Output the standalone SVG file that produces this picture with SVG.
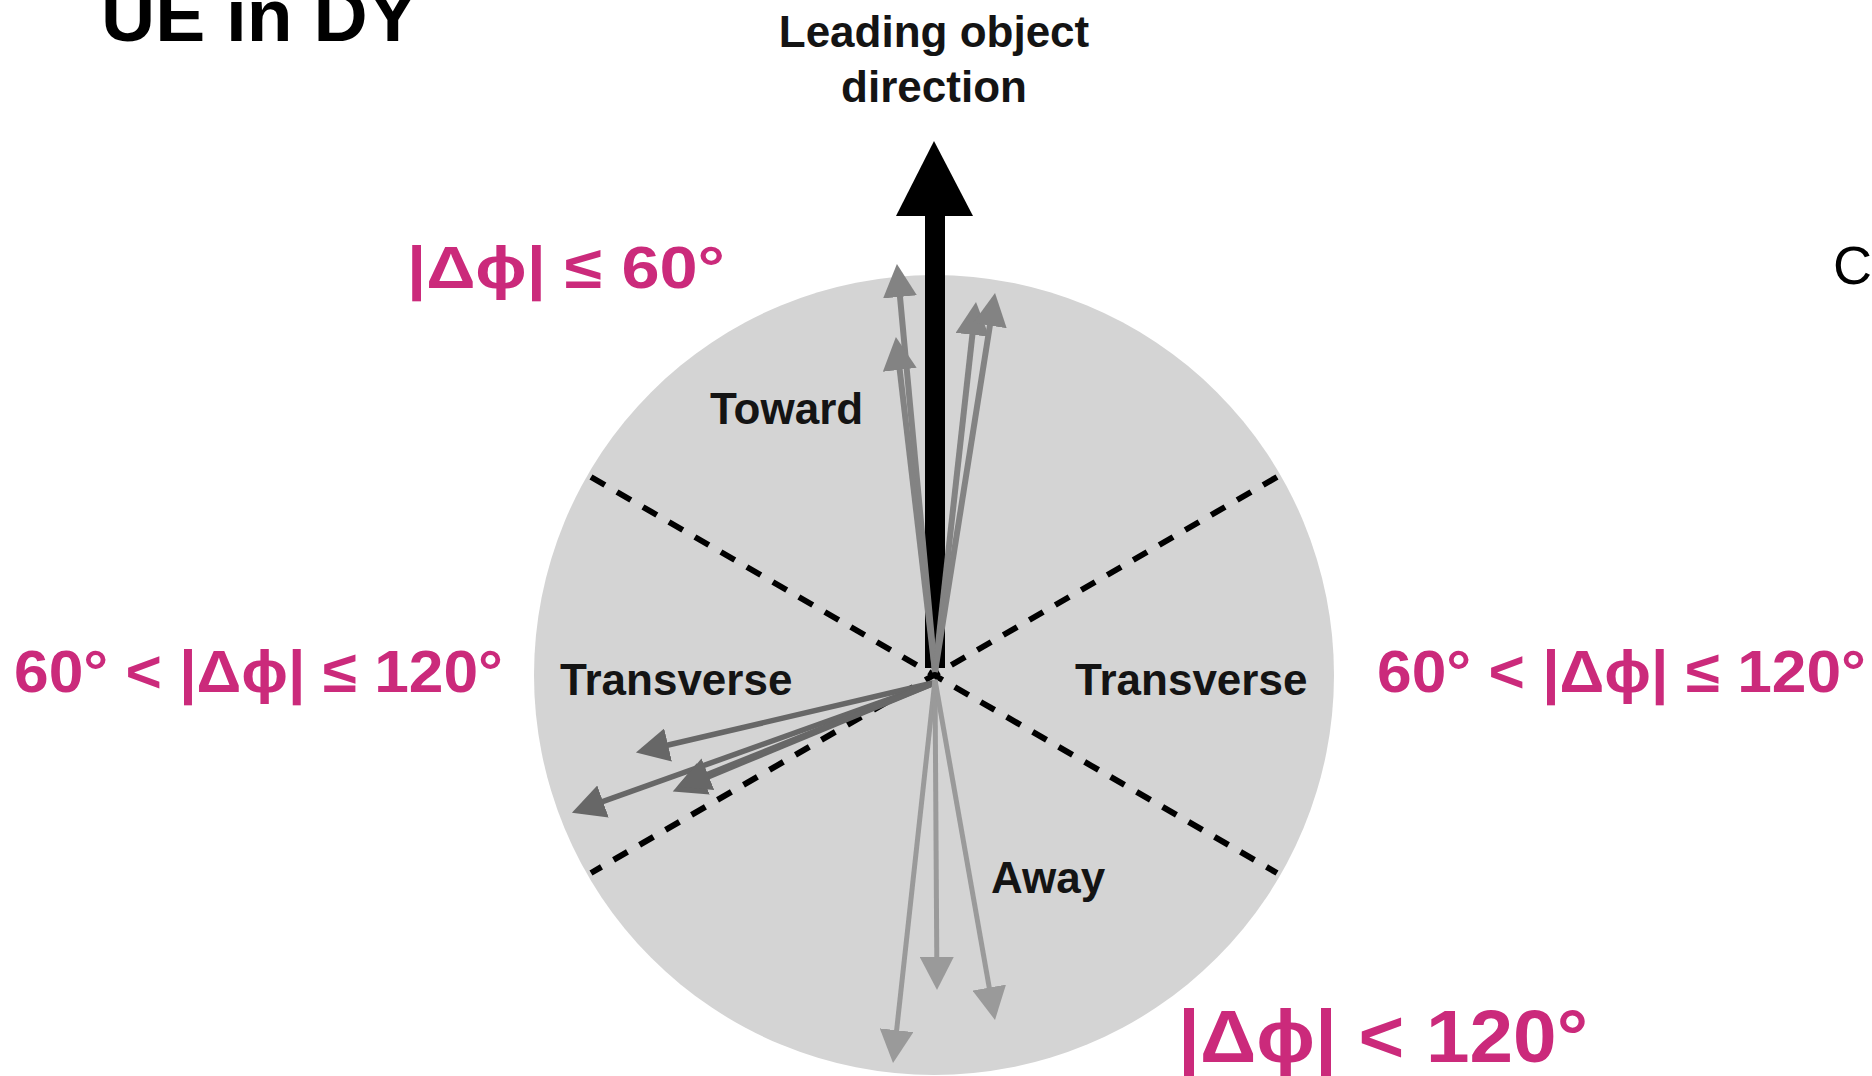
<svg xmlns="http://www.w3.org/2000/svg" width="1872" height="1076" viewBox="0 0 1872 1076">
  <defs>
    <style>
      .title { font-family: "Liberation Sans", Arial, sans-serif; font-weight: bold; fill: #000; }
      .lbl { font-family: "Liberation Sans", Arial, sans-serif; font-weight: bold; fill: #141414; font-size: 44px; }
      .pink { font-family: "Liberation Sans", "DejaVu Sans", Arial, sans-serif; font-weight: bold; fill: #CB2A7B; }
      .dash { stroke: #000; stroke-width: 6; stroke-dasharray: 16 14; fill: none; }
      .toward { stroke: #838383; stroke-width: 6; fill: none; }
      .trans { stroke: #676767; stroke-width: 5.5; fill: none; }
      .away { stroke: #9a9a9a; stroke-width: 5; fill: none; }
    </style>
    <marker id="hTo" markerUnits="userSpaceOnUse" markerWidth="34" markerHeight="34" refX="2" refY="17" orient="auto" viewBox="0 0 34 34">
      <path d="M0,0 L33,17 L0,34 z" fill="#838383"/>
    </marker>
    <marker id="hTr" markerUnits="userSpaceOnUse" markerWidth="34" markerHeight="34" refX="2" refY="17" orient="auto" viewBox="0 0 34 34">
      <path d="M0,0 L33,17 L0,34 z" fill="#676767"/>
    </marker>
    <marker id="hAw" markerUnits="userSpaceOnUse" markerWidth="34" markerHeight="34" refX="2" refY="17" orient="auto" viewBox="0 0 34 34">
      <path d="M0,0 L33,17 L0,34 z" fill="#9a9a9a"/>
    </marker>
  </defs>
  <rect x="0" y="0" width="1872" height="1076" fill="#ffffff"/>

  <text id="title" class="title" x="101" y="41" font-size="75">UE in DY</text>

  <g id="disc">
    <circle cx="934" cy="675" r="400" fill="#D4D4D4"/>
  </g>

  <g id="sector-lines">
    <line class="dash" x1="591" y1="477" x2="1277" y2="873"/>
    <line class="dash" x1="1277" y1="477" x2="591" y2="873"/>
  </g>

  <g id="leading-arrow">
    <rect x="925" y="214" width="20" height="454" fill="#000"/>
    <polygon points="934,141 973,216 896,216" fill="#000"/>
  </g>

  <g id="connectors">
    <!-- toward -->
    <line class="toward" x1="935" y1="672" x2="899.8" y2="294.9" marker-end="url(#hTo)"/>
    <line class="toward" x1="935" y1="672" x2="899.5" y2="367.8" marker-end="url(#hTo)"/>
    <line class="toward" x1="935" y1="672" x2="972.6" y2="332.8" marker-end="url(#hTo)"/>
    <line class="toward" x1="935" y1="672" x2="990.2" y2="323.6" marker-end="url(#hTo)"/>
    <!-- transverse -->
    <line class="trans" x1="937" y1="682" x2="666.1" y2="745.5" marker-end="url(#hTr)"/>
    <line class="trans" x1="937" y1="682" x2="601.1" y2="802.2" marker-end="url(#hTr)"/>
    <line class="trans" x1="937" y1="682" x2="701.4" y2="779.6" marker-end="url(#hTr)"/>
    <line class="trans" x1="937" y1="682" x2="706" y2="775" marker-end="url(#hTr)"/>
    <!-- away -->
    <line class="away" x1="935" y1="680" x2="896.4" y2="1032.2" marker-end="url(#hAw)"/>
    <line class="away" x1="935" y1="680" x2="936.8" y2="959" marker-end="url(#hAw)"/>
    <line class="away" x1="935" y1="680" x2="989.6" y2="989.5" marker-end="url(#hAw)"/>
  </g>

  <g id="leading-label">
    <text class="lbl" x="934" y="47" text-anchor="middle" font-size="45">Leading object</text>
    <text class="lbl" x="934" y="102" text-anchor="middle" font-size="45">direction</text>
  </g>

  <g id="region-labels">
    <text id="toward" class="lbl" x="710" y="424">Toward</text>
    <text id="transverse-left" class="lbl" x="560" y="695">Transverse</text>
    <text id="transverse-right" class="lbl" x="1075" y="695">Transverse</text>
    <text id="away" class="lbl" x="991" y="893">Away</text>
  </g>

  <g id="angle-labels">
    <text class="pink" x="407" y="288" font-size="60" textLength="318" lengthAdjust="spacingAndGlyphs">|Δϕ| ≤ 60°</text>
    <text class="pink" x="14" y="692" font-size="59" textLength="489" lengthAdjust="spacingAndGlyphs">60° &lt; |Δϕ| ≤ 120°</text>
    <text class="pink" x="1377" y="692" font-size="59" textLength="489" lengthAdjust="spacingAndGlyphs">60° &lt; |Δϕ| ≤ 120°</text>
    <text class="pink" x="1178" y="1062" font-size="75" textLength="410" lengthAdjust="spacingAndGlyphs">|Δϕ| &lt; 120°</text>
  </g>

  <text id="c-fragment" x="1833" y="284" font-family="Liberation Sans, Arial, sans-serif" font-size="54" fill="#000">C</text>
</svg>
